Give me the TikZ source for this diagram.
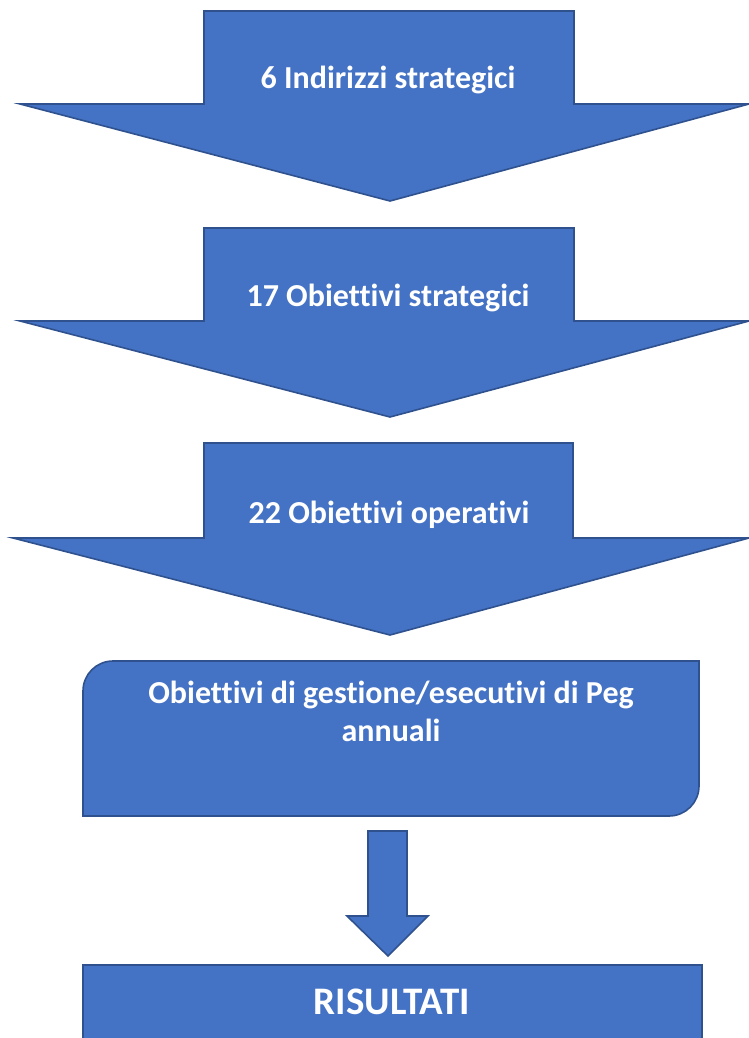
\documentclass[tikz,border=0pt]{standalone}
\usepackage{fontspec}
\setmainfont[Ligatures=NoCommon]{Carlito}
\definecolor{fillblue}{HTML}{4472C4}
\definecolor{edgeblue}{HTML}{2F528F}
\begin{document}
\begin{tikzpicture}[x=1pt,y=-1pt,
  shapebox/.style={fill=fillblue,draw=edgeblue,line width=1.6pt,line join=miter},
  lbl/.style={text=white,font=\fontsize{32}{36}\selectfont\bfseries,anchor=base,inner sep=0pt},
  biglbl/.style={text=white,font=\fontsize{39}{44}\selectfont\bfseries,anchor=base,inner sep=0pt}]
\useasboundingbox (0,0) rectangle (749,1038);
% arrow 1
\path[shapebox] (204,11) -- (574,11) -- (574,104) -- (749,104) -- (390,201) -- (20,104) -- (204,104) -- cycle;
\node[lbl] (a1) at (388,89) {6 Indirizzi strategici};
% arrow 2
\path[shapebox] (204,228) -- (574,228) -- (574,321) -- (749,321) -- (390,417) -- (20,321) -- (204,321) -- cycle;
\node[lbl] (a2) at (388,306) {17 Obiettivi strategici};
% arrow 3
\path[shapebox] (204,443) -- (573,443) -- (573,538) -- (749,538) -- (390,635) -- (13,538) -- (204,538) -- cycle;
\node[lbl] (a3) at (389,523) {22 Obiettivi operativi};
% rounded box
\path[shapebox] (83,816) -- (83,691) .. controls (83,674.4) and (96.4,661) .. (113,661) -- (699,661) -- (699,786) .. controls (699,802.6) and (685.6,816) .. (669,816) -- cycle;
\node[lbl] (b1) at (391,703) {Obiettivi di gestione/esecutivi di Peg};
\node[lbl] (b2) at (391,741) {annuali};
% small arrow
\path[shapebox] (368,831) -- (407,831) -- (407,916) -- (428,916) -- (388,956) -- (347,916) -- (368,916) -- cycle;
% result box
\path[shapebox] (83,965) rectangle (702,1045);
\node[biglbl] (r) at (392,1014) {RISULTATI};
\end{tikzpicture}
\end{document}
